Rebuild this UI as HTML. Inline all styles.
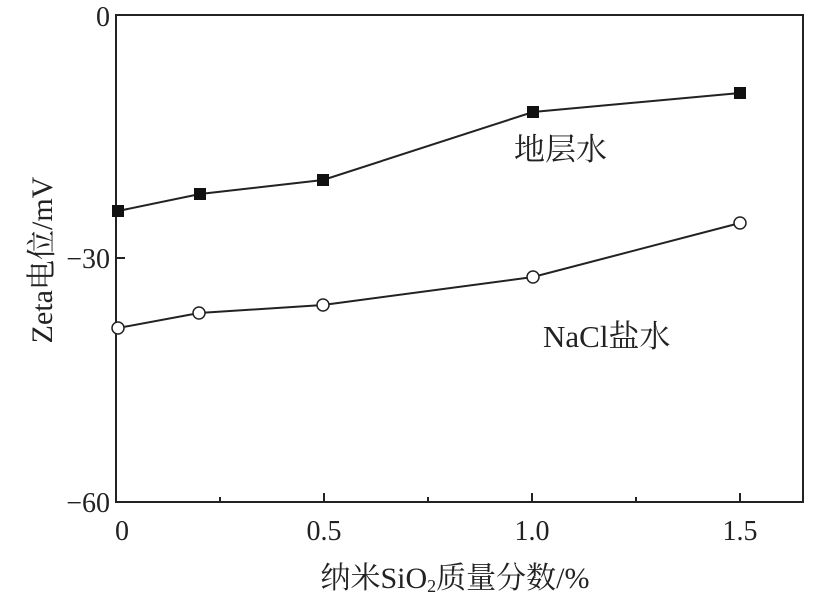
<!DOCTYPE html>
<html><head><meta charset="utf-8"><style>body{margin:0;background:#fff}</style></head>
<body>
<svg width="817" height="600" xmlns="http://www.w3.org/2000/svg" font-family="'Liberation Serif','Noto Serif CJK SC',serif">
<rect width="817" height="600" fill="#fff"/>
<rect x="116" y="15" width="687" height="487" fill="none" stroke="#222" stroke-width="2"/>
<g stroke="#222" stroke-width="2">
<line x1="220" y1="502" x2="220" y2="497"/><line x1="324" y1="502" x2="324" y2="493"/>
<line x1="428" y1="502" x2="428" y2="497"/><line x1="532" y1="502" x2="532" y2="493"/>
<line x1="636" y1="502" x2="636" y2="497"/><line x1="740" y1="502" x2="740" y2="493"/>
<line x1="116" y1="258" x2="125" y2="258"/>
</g>
<g font-size="28" fill="#222">
<text x="110" y="268" text-anchor="end">−30</text>
<text x="110" y="512" text-anchor="end">−60</text>
<text x="110" y="26" text-anchor="end">0</text>
<text x="122" y="540" text-anchor="middle">0</text>
<text x="324" y="540" text-anchor="middle">0.5</text>
<text x="532" y="540" text-anchor="middle">1.0</text>
<text x="740" y="540" text-anchor="middle">1.5</text>
<text x="455" y="588" text-anchor="middle" font-size="30">纳米SiO<tspan font-size="18" dy="4">2</tspan><tspan dy="-4">质量分数/%</tspan></text>
<text transform="translate(52,260) rotate(-90)" text-anchor="middle" font-size="30">Zeta电位/mV</text>
<text x="514" y="160" font-size="31">地层水</text>
<text x="543" y="347" font-size="31">NaCl盐水</text>
</g>
<polyline points="118,211 200,194 323,180 533,112 740,93" fill="none" stroke="#222" stroke-width="2"/>
<g fill="#111">
<rect x="112" y="205" width="12" height="12"/><rect x="194" y="188" width="12" height="12"/><rect x="317" y="174" width="12" height="12"/><rect x="527" y="106" width="12" height="12"/><rect x="734" y="87" width="12" height="12"/>
</g>
<polyline points="118,328 199,313 323,305 533,277 740,223" fill="none" stroke="#222" stroke-width="2"/>
<g fill="#fff" stroke="#222" stroke-width="1.5">
<circle cx="118" cy="328" r="6"/><circle cx="199" cy="313" r="6"/><circle cx="323" cy="305" r="6"/><circle cx="533" cy="277" r="6"/><circle cx="740" cy="223" r="6"/>
</g>
</svg>
</body></html>
